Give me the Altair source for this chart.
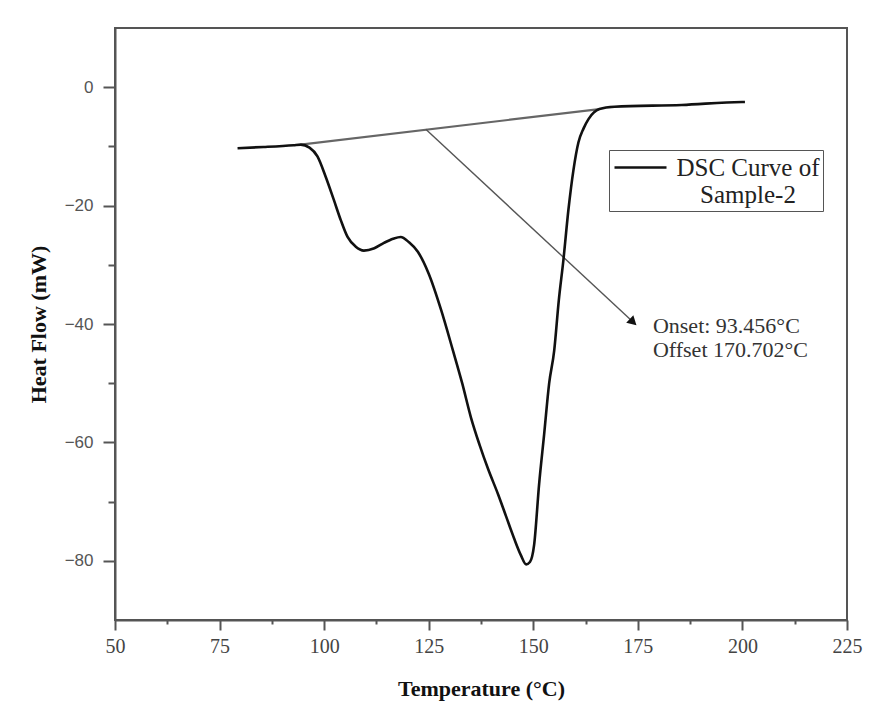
import altair as alt
import pandas as pd

# DSC curve
temp = [79.3, 85.5, 92.7, 94.4, 96.5, 98.4, 100.3, 102.3, 104.0, 105.6, 107.5, 109.5,
        112.0, 114.3, 116.5, 118.3, 120.3, 122.4, 125.0, 128.0, 130.8, 133.0, 135.1,
        137.2, 139.2, 141.6, 143.5, 145.4, 147.0, 148.3, 149.2, 150.2, 151.4, 152.6,
        153.8, 155.0, 156.1, 157.2, 158.4, 159.6, 160.8, 162.0, 163.2, 165.8, 169.4,
        185.5, 199.9, 200.6]
heat = [-10.3, -10.1, -9.8, -9.7, -10.2, -11.7, -15.0, -19.0, -22.5, -25.3, -26.9, -27.6,
        -27.2, -26.3, -25.6, -25.3, -26.2, -27.8, -31.5, -37.7, -44.5, -50.0, -55.8,
        -60.5, -64.5, -68.8, -72.5, -76.2, -79.0, -80.6, -80.2, -77.3, -67.0, -58.6,
        -50.0, -44.5, -36.0, -29.2, -20.7, -14.0, -9.3, -7.0, -5.4, -3.7, -3.3,
        -3.0, -2.5, -2.5]

# baseline (tangent) line
base_x = [94.4, 165.8]
base_y = [-9.7, -3.7]

# arrow
arrow_x = [124.3, 173.6]
arrow_y = [-7.1, -39.5]

# annotation
ann_text = ["Onset: 93.456°C", "Offset 170.702°C"]
ann_x = [178.6, 178.6]
ann_y = [-40.3, -44.4]

series_name = ["DSC Curve of Sample-2"]

x_ticks = [50, 62.5, 75, 87.5, 100, 112.5, 125, 137.5, 150, 162.5, 175, 187.5, 200, 212.5, 225]
y_ticks = [-80, -70, -60, -50, -40, -30, -20, -10, 0]

curve_df = pd.DataFrame({"T": temp, "H": heat, "s": series_name * len(temp)})
base_df = pd.DataFrame({"T": base_x, "H": base_y})
arrow_df = pd.DataFrame({"T": arrow_x, "H": arrow_y})
head_df = pd.DataFrame({"T": [arrow_x[-1]], "H": [arrow_y[-1]]})
ann_df = pd.DataFrame({"T": ann_x, "H": ann_y, "text": ann_text})

xscale = alt.Scale(domain=[50, 225], nice=False, zero=False)
yscale = alt.Scale(domain=[-90, 10], nice=False, zero=False)

xaxis = alt.Axis(
    values=x_ticks,
    labelExpr="datum.value % 25 === 0 ? datum.label : ''",
    tickSize={"expr": "datum.value % 25 === 0 ? 10 : 4"},
    title="Temperature (°C)",
    titleFont="Liberation Serif", titleFontSize=22, titleFontWeight="bold", titleColor="#111",
    titlePadding=22,
    labelFont="Liberation Serif", labelFontSize=20, labelColor="#444", labelPadding=6,
    labelFlush=False,
    grid=False, domainColor="#555", domainWidth=2, tickColor="#555", tickWidth=2,
)
yaxis = alt.Axis(
    values=y_ticks,
    labelExpr="datum.value % 20 === 0 ? datum.label : ''",
    tickSize={"expr": "datum.value % 20 === 0 ? 12 : 7"},
    title="Heat Flow (mW)",
    titleFont="Liberation Serif", titleFontSize=22, titleFontWeight="bold", titleColor="#111",
    titlePadding=14,
    labelFont="Liberation Sans", labelFontSize=17, labelColor="#555", labelPadding=10,
    labelFlush=False,
    grid=False, domainColor="#555", domainWidth=2, tickColor="#555", tickWidth=2,
)

curve = alt.Chart(curve_df).mark_line(strokeWidth=2.6, interpolate="monotone").encode(
    x=alt.X("T:Q", scale=xscale, axis=xaxis),
    y=alt.Y("H:Q", scale=yscale, axis=yaxis),
    color=alt.Color(
        "s:N",
        scale=alt.Scale(range=["#111111"]),
        legend=alt.Legend(
            title=None, orient="none", legendX=494, legendY=122,
            symbolType="M-2,0L2,0", symbolSize=676, symbolStrokeWidth=2.6,
            symbolOffset=14, symbolFillColor="transparent",
            labelFont="Liberation Serif", labelFontSize=25, labelColor="#222",
            labelExpr="['DSC Curve of', 'Sample-2']", labelLimit=400,
            labelAlign="center", labelBaseline="middle", labelOffset=93,
            strokeColor="#555", padding=3, fillColor="white",
        ),
    ),
)

baseline = alt.Chart(base_df).mark_line(color="#666", strokeWidth=2.2).encode(
    x=alt.X("T:Q", scale=xscale), y=alt.Y("H:Q", scale=yscale)
)
arrow = alt.Chart(arrow_df).mark_line(color="#555", strokeWidth=1.4).encode(
    x=alt.X("T:Q", scale=xscale), y=alt.Y("H:Q", scale=yscale)
)
head = alt.Chart(head_df).mark_point(
    shape="triangle", filled=True, color="#111", size=110, angle=133, opacity=1
).encode(x=alt.X("T:Q", scale=xscale), y=alt.Y("H:Q", scale=yscale))

ann = alt.Chart(ann_df).mark_text(
    align="left", baseline="middle", font="Liberation Serif", fontSize=22, color="#333"
).encode(x=alt.X("T:Q", scale=xscale), y=alt.Y("H:Q", scale=yscale), text="text:N")

chart = alt.layer(baseline, arrow, curve, head, ann).properties(
    width=732, height=592,
    padding={"left": 19, "top": 20, "right": 5, "bottom": 5},
    background="white",
).configure_view(stroke="#555", strokeWidth=2)

chart.save("out.html", embed_options={"renderer": "svg", "actions": False})
